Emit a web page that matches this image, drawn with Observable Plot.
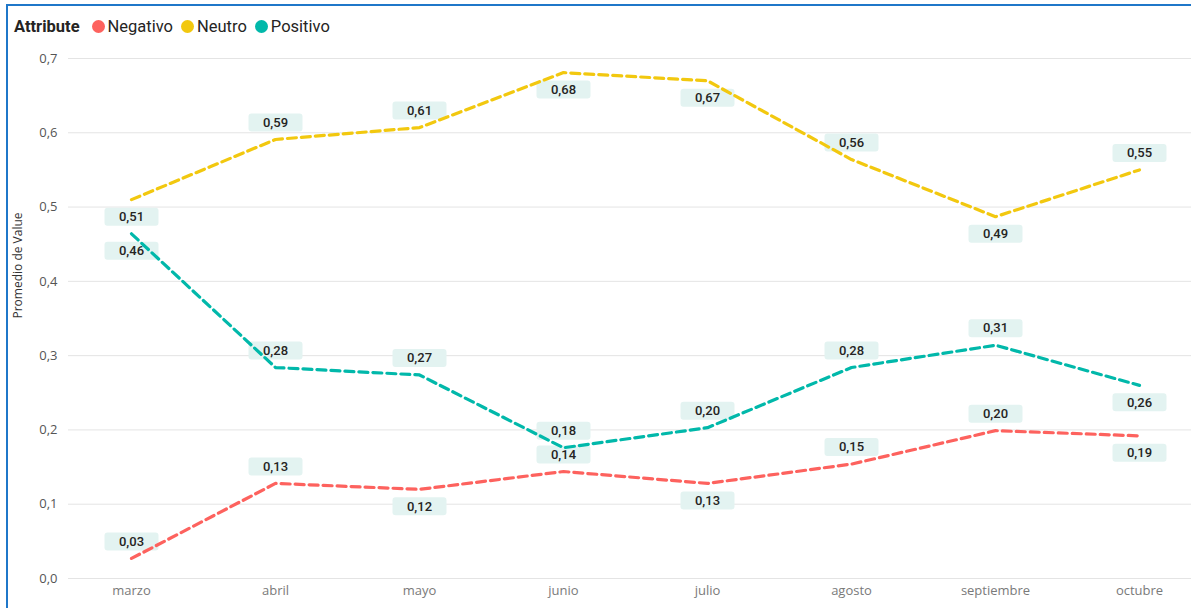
<!DOCTYPE html>
<html>
<head>
<meta charset="utf-8">
<script src="https://cdn.jsdelivr.net/npm/d3@7"></script>
<script src="https://cdn.jsdelivr.net/npm/@observablehq/plot@0.6"></script>
<style>
  html, body { margin: 0; padding: 0; background: #fff; overflow: hidden; }
  #frame {
    position: absolute; left: 6px; top: 4px; width: 1300px; height: 700px;
    border-top: 2px solid #1f77c9; border-left: 2px solid #1f77c9;
  }
  #legend {
    height: 40px; display: flex; align-items: center; padding-left: 6px;
    font-family: Roboto, sans-serif; font-size: 16.5px; color: #252423;
  }
  #legend .title { font-weight: bold; margin-right: 12px; }
  #legend .item { display: flex; align-items: center; margin-right: 8px; }
  #legend .sw { width: 13px; height: 13px; border-radius: 50%; margin-right: 3px; }
  #chart svg { display: block; }
</style>
</head>
<body>
<div id="frame">
  <div id="legend"></div>
  <div id="chart"></div>
</div>
<script>
// Monthly average value per sentiment attribute
const months = ["marzo", "abril", "mayo", "junio", "julio", "agosto", "septiembre", "octubre"];
const attributes = ["Negativo", "Neutro", "Positivo"];
const colors = ["#FD625E", "#F2C80F", "#01B8AA"];

const negativo = [0.027, 0.128, 0.120, 0.144, 0.128, 0.154, 0.199, 0.192];
const neutro   = [0.510, 0.591, 0.607, 0.681, 0.670, 0.564, 0.487, 0.550];
const positivo = [0.464, 0.284, 0.274, 0.176, 0.203, 0.284, 0.314, 0.260];

// Which side of the point each data label sits on
const negativoSide = ["above", "above", "below", "above", "below", "above", "above", "below"];
const neutroSide   = ["below", "above", "above", "below", "below", "above", "below", "above"];
const positivoSide = ["below", "above", "above", "above", "above", "above", "above", "below"];

const yTicks = [0, 0.1, 0.2, 0.3, 0.4, 0.5, 0.6, 0.7];

const series = [
  {attr: "Negativo", values: negativo, sides: negativoSide},
  {attr: "Neutro", values: neutro, sides: neutroSide},
  {attr: "Positivo", values: positivo, sides: positivoSide}
];
const rows = series.flatMap(s => s.values.map((v, i) => ({
  month: months[i], attr: s.attr, value: v, side: s.sides[i]
})));

const comma = (v, n) => v.toFixed(n).replace(".", ",");
const labelFont = "Roboto, sans-serif";
const axisFont = "'Open Sans', sans-serif";

// Rounded box used behind each data label
const labelBox = {
  draw(ctx) {
    const w = 27, h = 9, r = 3;
    ctx.moveTo(-w + r, -h);
    ctx.lineTo(w - r, -h); ctx.arcTo(w, -h, w, -h + r, r);
    ctx.lineTo(w, h - r); ctx.arcTo(w, h, w - r, h, r);
    ctx.lineTo(-w + r, h); ctx.arcTo(-w, h, -w, h - r, r);
    ctx.lineTo(-w, -h + r); ctx.arcTo(-w, -h, -w + r, -h, r);
    ctx.closePath();
  }
};

const above = rows.filter(d => d.side === "above");
const below = rows.filter(d => d.side === "below");
const off = 17;

const chart = Plot.plot({
  width: 1183,
  height: 562,
  marginTop: 12,
  marginBottom: 30,
  marginLeft: 60,
  marginRight: 0,
  style: {fontFamily: axisFont, fontSize: "13px", background: "#fff"},
  x: {type: "point", domain: months, range: [120, 1133], padding: 0, label: null},
  y: {domain: [0, 0.7], label: null},
  color: {domain: attributes, range: colors},
  marks: [
    Plot.gridY(yTicks, {stroke: "#e4e4e4", strokeOpacity: 1, strokeWidth: 1}),
    Plot.axisY(yTicks, {tickSize: 0, tickPadding: 11, tickFormat: d => comma(d, 1), fill: "#555", fontSize: 13, label: null}),
    Plot.axisX({tickSize: 0, tickPadding: 7, fill: "#7a7a7a", fontSize: 13, label: null}),
    Plot.text(["Promedio de Value"], {frameAnchor: "left", dx: -50, rotate: -90, fill: "#333", fontSize: 12}),
    Plot.dot(above, {x: "month", y: "value", dy: -off, symbol: labelBox, fill: "#e3f3f1", stroke: "none"}),
    Plot.dot(below, {x: "month", y: "value", dy: off, symbol: labelBox, fill: "#e3f3f1", stroke: "none"}),
    Plot.text(above, {x: "month", y: "value", dy: -off, text: d => comma(d.value, 2), fill: "#252423", fontSize: 13, fontWeight: 500, fontFamily: labelFont}),
    Plot.text(below, {x: "month", y: "value", dy: off, text: d => comma(d.value, 2), fill: "#252423", fontSize: 13, fontWeight: 500, fontFamily: labelFont}),
    Plot.line(rows, {x: "month", y: "value", z: "attr", stroke: "attr", strokeWidth: 3.2, strokeDasharray: "9,5"})
  ]
});
document.getElementById("chart").appendChild(chart);

// Legend row above the plot
const legend = document.getElementById("legend");
const title = document.createElement("span");
title.className = "title";
title.textContent = "Attribute";
legend.appendChild(title);
attributes.forEach((a, i) => {
  const item = document.createElement("span");
  item.className = "item";
  const sw = document.createElement("span");
  sw.className = "sw";
  sw.style.background = colors[i];
  const t = document.createElement("span");
  t.textContent = a;
  item.appendChild(sw);
  item.appendChild(t);
  legend.appendChild(item);
});
</script>
</body>
</html>
